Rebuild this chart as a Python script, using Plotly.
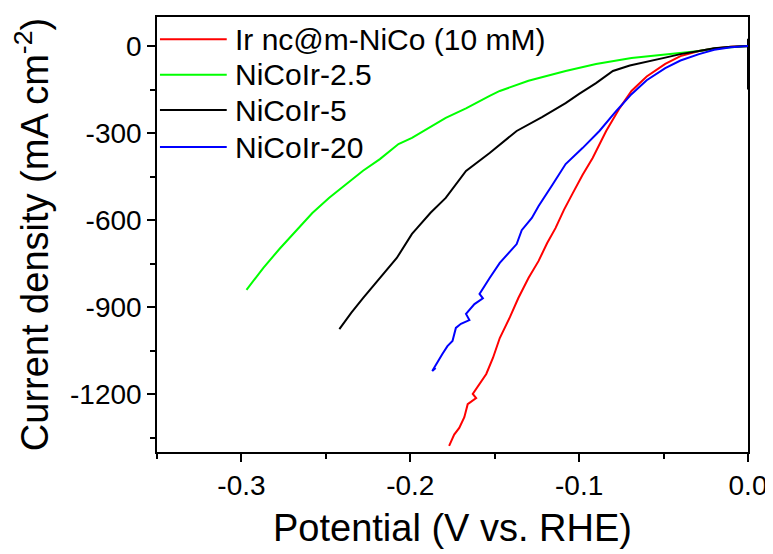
import plotly.graph_objects as go

names = ["Ir nc@m-NiCo (10 mM)", "NiCoIr-2.5", "NiCoIr-5", "NiCoIr-20"]
colors = ["#ff0000", "#00ff00", "#000000", "#0000ff"]

red_x = [0, -0.01, -0.02, -0.029, -0.04, -0.049, -0.06, -0.069, -0.076, -0.084, -0.092,
         -0.098, -0.104, -0.109, -0.114, -0.119, -0.124, -0.130, -0.136, -0.141, -0.147,
         -0.151, -0.155, -0.159, -0.163, -0.161, -0.166, -0.168, -0.171, -0.174, -0.177]
red_y = [0, -3, -9, -17, -35, -62, -105, -155, -214, -293, -386,
         -445, -510, -565, -628, -680, -741, -800, -869, -935, -1007,
         -1075, -1131, -1165, -1200, -1214, -1235, -1280, -1317, -1340, -1379]

green_x = [0, -0.01, -0.02, -0.029, -0.05, -0.069, -0.09, -0.108, -0.13, -0.147, -0.153,
           -0.167, -0.179, -0.187, -0.199, -0.207, -0.218, -0.228, -0.238, -0.248, -0.258,
           -0.268, -0.2775, -0.287, -0.297]
green_y = [0, -4, -9, -17, -30, -41, -62, -86, -120, -155, -172,
           -215, -248, -275, -317, -338, -390, -430, -476, -523, -576,
           -640, -700, -765, -841]

black_x = [0, 0, 0, -0.01, -0.02, -0.029, -0.04, -0.049, -0.059, -0.07, -0.080, -0.09, -0.1,
           -0.108, -0.122, -0.137, -0.153, -0.167, -0.179, -0.188, -0.196, -0.199, -0.208,
           -0.213, -0.218, -0.223, -0.228, -0.235, -0.242]
black_y = [-150, 25, 0, -3, -8, -17, -28, -40, -52, -67, -86, -128, -165,
           -197, -245, -293, -369, -431, -524, -575, -628, -648, -731,
           -765, -800, -835, -869, -920, -976]

blue_x = [0, -0.01, -0.02, -0.029, -0.04, -0.049, -0.06, -0.069, -0.078, -0.088, -0.098,
          -0.108, -0.116, -0.124, -0.128, -0.134, -0.137, -0.142, -0.147, -0.153, -0.159,
          -0.157, -0.162, -0.167, -0.165, -0.170, -0.173, -0.175, -0.178, -0.181, -0.184,
          -0.187, -0.185]
blue_y = [0, -4, -13, -28, -50, -76, -118, -166, -224, -293, -352,
          -407, -480, -552, -593, -635, -683, -715, -748, -800, -855,
          -870, -890, -924, -945, -958, -972, -1017, -1035, -1062, -1090,
          -1121, -1110]

series_x = [red_x, green_x, black_x, blue_x]
series_y = [red_y, green_y, black_y, blue_y]

x_ticks = [-0.3, -0.2, -0.1, 0.0]
x_ticktext = ["-0.3", "-0.2", "-0.1", "0.0"]
y_ticks = [0, -300, -600, -900, -1200]
y_ticktext = ["0", "-300", "-600", "-900", "-1200"]

FONT = "Liberation Sans, Arial, sans-serif"

fig = go.Figure()
for n, c, xs, ys in zip(names, colors, series_x, series_y):
    fig.add_trace(go.Scatter(x=xs, y=ys, mode="lines", name=n,
                             line=dict(color=c, width=2), showlegend=False))

# custom legend (long line samples)
leg_rows = [0.949, 0.867, 0.786, 0.701]
for n, c, yy in zip(names, colors, leg_rows):
    fig.add_shape(type="line", xref="paper", yref="paper", x0=0.005, x1=0.118,
                  y0=yy, y1=yy, line=dict(color=c, width=2))
    fig.add_annotation(xref="paper", yref="paper", x=0.128, y=yy, text=n,
                       showarrow=False, xanchor="left", yanchor="middle",
                       font=dict(size=30, color="black", family=FONT))

axis_common = dict(showline=True, linecolor="black", linewidth=1.5, mirror=True,
                   ticks="outside", ticklen=8, tickwidth=1.5, tickcolor="black",
                   showgrid=False, zeroline=False, automargin=False,
                   tickfont=dict(size=28, color="black", family=FONT))

fig.update_xaxes(range=[-0.35, 0.0], tickvals=x_ticks, ticktext=x_ticktext,
                 minor=dict(dtick=0.05, tick0=0, ticks="outside", ticklen=5,
                            tickwidth=1.5, tickcolor="black"),
                 title=dict(text="Potential (V vs. RHE)",
                            font=dict(size=38, color="black", family=FONT), standoff=14),
                 **axis_common)
fig.update_yaxes(range=[-1400, 100], tickvals=y_ticks, ticktext=y_ticktext,
                 minor=dict(dtick=150, tick0=0, ticks="outside", ticklen=5,
                            tickwidth=1.5, tickcolor="black"),
                 title=dict(text="Current density (mA cm<sup>-2</sup>)",
                            font=dict(size=38, color="black", family=FONT), standoff=24),
                 **axis_common)

# the page body adds an 8px offset, so the figure is 8px smaller and margins compensate
fig.update_layout(template=None, width=765, height=546,
                  margin=dict(l=149, r=25, t=9, b=102, autoexpand=False),
                  plot_bgcolor="white", paper_bgcolor="white", showlegend=False,
                  font=dict(family=FONT, color="black"))

fig.write_html("out.html")
